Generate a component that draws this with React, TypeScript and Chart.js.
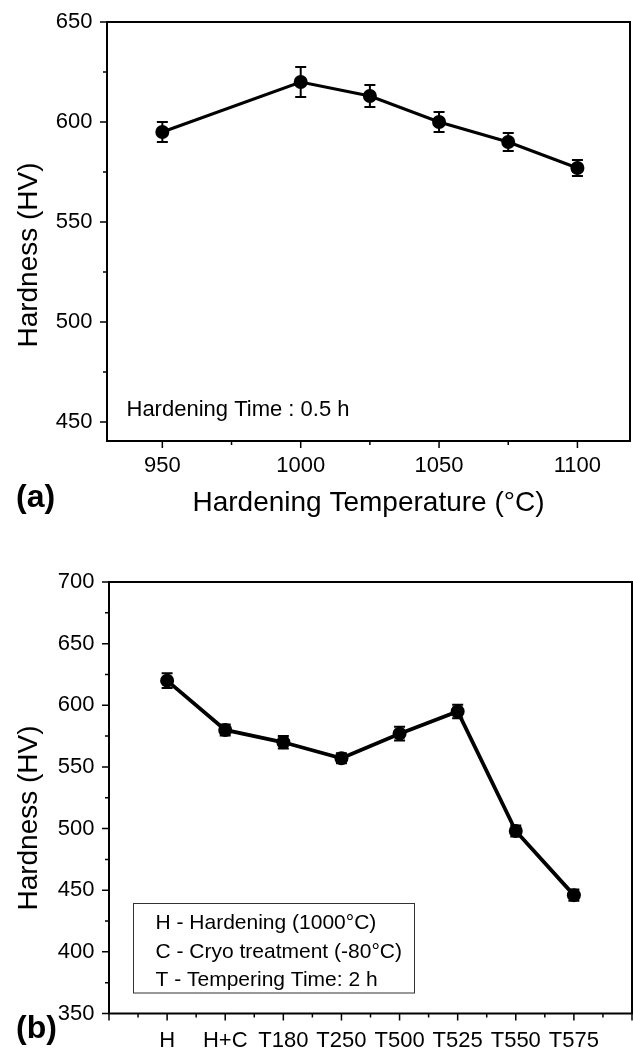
import React, { useEffect, useRef } from 'react';
import { Chart, registerables } from 'chart.js';

Chart.register(...registerables);

// ---------- Data: panel (a) ----------
const tempA = [950, 1000, 1025, 1050, 1075, 1100];
const hardA = [595, 620, 613, 600, 590, 577];
const errA = [5, 7.5, 5.5, 5, 4.5, 4];
const xTicksA = [950, 975, 1000, 1025, 1050, 1075, 1100];
const yTicksA = [450, 475, 500, 525, 550, 575, 600, 625, 650];

// ---------- Data: panel (b) ----------
const treatB = ['H', 'H+C', 'T180', 'T250', 'T500', 'T525', 'T550', 'T575'];
const hardB = [620, 580, 570, 557, 577, 595, 498, 446];
const errB = [6, 4.5, 5, 4, 5.5, 5.5, 4.5, 4.5];
const xTicksB = [0, 0.5, 1, 1.5, 2, 2.5, 3, 3.5, 4, 4.5, 5, 5.5, 6, 6.5, 7, 7.5, 8, 8.5, 9];
const yTicksB = [350, 375, 400, 425, 450, 475, 500, 525, 550, 575, 600, 625, 650, 675, 700];

const FONT = "'Liberation Sans', Arial, Helvetica, sans-serif";

type Note = { text: string; x: number; y: number; font: string; rot?: boolean };

type PanelCfg = {
  width: number;
  height: number;
  left: number;
  right: number;
  top: number;
  bottom: number;
  xs: number[];
  ys: number[];
  errs: number[];
  xMin: number;
  xMax: number;
  yMin: number;
  yMax: number;
  xTicks: number[];
  yTicks: number[];
  xMajor: (v: number) => boolean;
  yMajor: (v: number) => boolean;
  xLabel: (v: number) => string;
  yLabel: (v: number) => string;
  xTitle: string | null;
  xTickPad: number;
  xTitlePad: number;
  lineWidth: number;
  notes: Note[];
  box: { x: number; y: number; w: number; h: number } | null;
};

function makeOverlay(cfg: PanelCfg) {
  return {
    id: 'overlay',
    beforeDatasetsDraw(chart: any) {
      const ctx = chart.ctx;
      const xs = chart.scales.x;
      const ys = chart.scales.y;
      ctx.save();
      ctx.strokeStyle = '#000';
      ctx.lineWidth = 2;
      const cap = 5.5;
      cfg.xs.forEach((xv, i) => {
        const px = xs.getPixelForValue(xv);
        const pt = ys.getPixelForValue(cfg.ys[i] + cfg.errs[i]);
        const pb = ys.getPixelForValue(cfg.ys[i] - cfg.errs[i]);
        ctx.beginPath();
        ctx.moveTo(px, pt);
        ctx.lineTo(px, pb);
        ctx.moveTo(px - cap, pt);
        ctx.lineTo(px + cap, pt);
        ctx.moveTo(px - cap, pb);
        ctx.lineTo(px + cap, pb);
        ctx.stroke();
      });
      ctx.restore();
    },
    afterDraw(chart: any) {
      const ctx = chart.ctx;
      const a = chart.chartArea;
      const xs = chart.scales.x;
      const ys = chart.scales.y;
      ctx.save();
      ctx.strokeStyle = '#000';
      ctx.lineWidth = 2;
      ctx.strokeRect(a.left, a.top, a.right - a.left, a.bottom - a.top);
      ctx.lineWidth = 1.5;
      ctx.beginPath();
      cfg.xTicks.forEach((v) => {
        const px = xs.getPixelForValue(v);
        const len = cfg.xMajor(v) ? 7 : 4;
        ctx.moveTo(px, a.bottom);
        ctx.lineTo(px, a.bottom + len);
      });
      cfg.yTicks.forEach((v) => {
        const py = ys.getPixelForValue(v);
        const len = cfg.yMajor(v) ? 7 : 4;
        ctx.moveTo(a.left, py);
        ctx.lineTo(a.left - len, py);
      });
      ctx.stroke();
      if (cfg.box) {
        ctx.lineWidth = 1;
        ctx.strokeStyle = '#333';
        ctx.strokeRect(cfg.box.x, cfg.box.y, cfg.box.w, cfg.box.h);
      }
      ctx.fillStyle = '#000';
      cfg.notes.forEach((n) => {
        ctx.font = n.font;
        if (n.rot) {
          ctx.save();
          ctx.translate(n.x, n.y);
          ctx.rotate(-Math.PI / 2);
          ctx.textAlign = 'center';
          ctx.textBaseline = 'middle';
          ctx.fillText(n.text, 0, 0);
          ctx.restore();
        } else {
          ctx.textAlign = 'left';
          ctx.textBaseline = 'middle';
          ctx.fillText(n.text, n.x, n.y);
        }
      });
      ctx.restore();
    },
  };
}

function Panel({ cfg }: { cfg: PanelCfg }) {
  const ref = useRef<HTMLCanvasElement | null>(null);
  useEffect(() => {
    if (!ref.current) return;
    const chart = new Chart(ref.current, {
      type: 'line',
      data: {
        datasets: [
          {
            data: cfg.xs.map((x, i) => ({ x, y: cfg.ys[i] })),
            borderColor: '#000',
            backgroundColor: '#000',
            borderWidth: cfg.lineWidth,
            pointRadius: 7,
            pointBackgroundColor: '#000',
            pointBorderColor: '#000',
            pointBorderWidth: 0,
            tension: 0,
            clip: false,
          },
        ],
      },
      options: {
        animation: false,
        responsive: false,
        devicePixelRatio: 1,
        layout: {
          autoPadding: false,
          padding: { top: cfg.top, right: cfg.width - cfg.right, left: 0, bottom: 0 },
        },
        plugins: {
          legend: { display: false },
          tooltip: { enabled: false },
          title: { display: false },
        },
        scales: {
          x: {
            type: 'linear',
            min: cfg.xMin,
            max: cfg.xMax,
            grid: { display: false, drawTicks: false },
            border: { display: false },
            afterBuildTicks: (s: any) => {
              s.ticks = cfg.xTicks.map((v) => ({ value: v }));
            },
            afterFit: (s: any) => {
              s.height = cfg.height - cfg.bottom;
              s.paddingLeft = 0;
              s.paddingRight = 0;
              s.paddingTop = 0;
              s.paddingBottom = 0;
            },
            ticks: {
              autoSkip: false,
              maxRotation: 0,
              minRotation: 0,
              padding: cfg.xTickPad,
              color: '#000',
              font: { family: FONT, size: 22 },
              callback: (v: any) => cfg.xLabel(Number(v)),
            },
            title: {
              display: !!cfg.xTitle,
              text: cfg.xTitle || '',
              color: '#000',
              font: { family: FONT, size: 28, lineHeight: 1.2 },
              padding: { top: 0, bottom: cfg.xTitlePad },
            },
          },
          y: {
            type: 'linear',
            min: cfg.yMin,
            max: cfg.yMax,
            grid: { display: false, drawTicks: false },
            border: { display: false },
            afterBuildTicks: (s: any) => {
              s.ticks = cfg.yTicks.map((v) => ({ value: v }));
            },
            afterFit: (s: any) => {
              s.width = cfg.left;
              s.paddingLeft = 0;
              s.paddingRight = 0;
              s.paddingTop = 0;
              s.paddingBottom = 0;
            },
            ticks: {
              autoSkip: false,
              padding: 14.5,
              color: '#000',
              font: { family: FONT, size: 22 },
              callback: (v: any) => cfg.yLabel(Number(v)),
            },
            title: { display: false },
          },
        },
      },
      plugins: [makeOverlay(cfg)],
    } as any);
    return () => chart.destroy();
  }, [cfg]);
  return (
    <canvas
      ref={ref}
      width={cfg.width}
      height={cfg.height}
      style={{ display: 'block', width: cfg.width, height: cfg.height }}
    />
  );
}

const cfgA: PanelCfg = {
  width: 633,
  height: 530,
  left: 107,
  right: 630,
  top: 22,
  bottom: 441,
  xs: tempA,
  ys: hardA,
  errs: errA,
  xMin: 930,
  xMax: 1119,
  yMin: 440.5,
  yMax: 650,
  xTicks: xTicksA,
  yTicks: yTicksA,
  xMajor: (v) => v % 50 === 0,
  yMajor: (v) => v % 50 === 0,
  xLabel: (v) => (v % 50 === 0 ? String(v) : ''),
  yLabel: (v) => (v % 50 === 0 ? String(v) : ''),
  xTitle: 'Hardening Temperature (°C)',
  xTickPad: 12,
  xTitlePad: 10,
  lineWidth: 3,
  notes: [
    { text: 'Hardness (HV)', x: 29, y: 255, font: `28px ${FONT}`, rot: true },
    { text: 'Hardening Time : 0.5 h', x: 126.5, y: 409.5, font: `22px ${FONT}` },
    { text: '(a)', x: 16, y: 498, font: `bold 32px ${FONT}` },
  ],
  box: null,
};

const cfgB: PanelCfg = {
  width: 633,
  height: 521,
  left: 109,
  right: 632,
  top: 52,
  bottom: 483.5,
  xs: treatB.map((_, i) => i + 1),
  ys: hardB,
  errs: errB,
  xMin: 0,
  xMax: 9,
  yMin: 350,
  yMax: 700,
  xTicks: xTicksB,
  yTicks: yTicksB,
  xMajor: (v) => Number.isInteger(v),
  yMajor: (v) => v % 50 === 0,
  xLabel: (v) => (Number.isInteger(v) && v >= 1 && v <= treatB.length ? treatB[v - 1] : ''),
  yLabel: (v) => (v % 50 === 0 ? String(v) : ''),
  xTitle: null,
  xTickPad: 14,
  xTitlePad: 0,
  lineWidth: 3.8,
  notes: [
    { text: 'Hardness (HV)', x: 29, y: 288, font: `28px ${FONT}`, rot: true },
    { text: 'H - Hardening (1000°C)', x: 155.5, y: 393.5, font: `21px ${FONT}` },
    { text: 'C - Cryo treatment (-80°C)', x: 155.5, y: 422, font: `21px ${FONT}` },
    { text: 'T - Tempering Time: 2 h', x: 155.5, y: 450, font: `21px ${FONT}` },
    { text: '(b)', x: 16, y: 499, font: `bold 32px ${FONT}` },
  ],
  box: { x: 133.5, y: 373.5, w: 281, h: 89.5 },
};

export default function App() {
  return (
    <div style={{ position: 'absolute', left: 0, top: 0, width: 633, height: 1051, background: '#fff', overflow: 'hidden' }}>
      <div style={{ position: 'absolute', left: 0, top: 0 }}>
        <Panel cfg={cfgA} />
      </div>
      <div style={{ position: 'absolute', left: 0, top: 530 }}>
        <Panel cfg={cfgB} />
      </div>
    </div>
  );
}
